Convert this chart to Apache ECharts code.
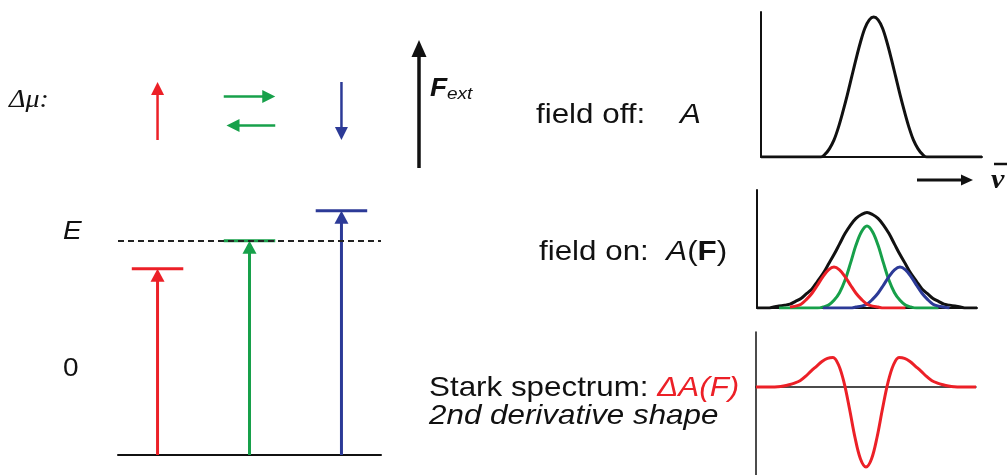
<!DOCTYPE html>
<html>
<head>
<meta charset="utf-8">
<script src="https://cdn.jsdelivr.net/npm/echarts@6/dist/echarts.min.js"></script>
<style>
html, body { margin: 0; padding: 0; background: #fff; }
#main { width: 1007px; height: 475px; }
</style>
</head>
<body>
<div id="main"></div>
<script>
// energy levels of the three sub-populations (E = 1 is the field-free transition)
var levelX = [1, 2, 3];
var levelE = [0.87, 1.0, 1.14];
var levelE0 = 1.0;
// dipole change arrows [x1, y1, x2, y2]
var dipoleArrows = [[1, -1, 1, 1], [1.72, 0.5, 2.28, 0.5], [2.28, -0.5, 1.75, -0.5], [3, 1, 3, -1]];
var fieldArrow = [[0, 0, 0, 1]];
var nuArrow = [[0, 0, 1, 0]];

// field off absorption A
var nuOff = [0, 27, 29, 31, 33, 35, 37, 39, 41, 43, 45, 47, 49, 51, 53, 55, 57, 59, 61, 63, 65, 67, 69, 71, 73, 75, 100];
var absOff = [0, 0, 0.02, 0.06, 0.12, 0.21, 0.32, 0.44, 0.57, 0.70, 0.82, 0.92, 0.98, 1.00, 0.98, 0.92, 0.82, 0.70, 0.57, 0.44, 0.32, 0.21, 0.12, 0.06, 0.02, 0, 0];

// field on A(F): envelope and the three shifted bands
var nuOn = [0, 2.5, 5, 7.5, 10, 12.5, 15, 17.5, 20, 22.5, 25, 27.5, 30, 32.5, 35, 37.5, 40, 42.5, 45, 47.5, 50,
            52.5, 55, 57.5, 60, 62.5, 65, 67.5, 70, 72.5, 75, 77.5, 80, 82.5, 85, 87.5, 90, 92.5, 95, 97.5, 100];
var absOn = [0, 0, 0, 0.01, 0.02, 0.03, 0.04, 0.07, 0.10, 0.15, 0.20, 0.28, 0.36, 0.46, 0.56, 0.67, 0.78, 0.87, 0.94, 0.98, 1.00,
             0.98, 0.94, 0.87, 0.78, 0.67, 0.56, 0.46, 0.36, 0.28, 0.20, 0.15, 0.10, 0.07, 0.04, 0.03, 0.02, 0.01, 0, 0, 0];
var absGreen = [null, null, null, null, 0, 0, 0, 0, 0, 0, 0, 0, 0.01, 0.03, 0.08, 0.16, 0.29, 0.47, 0.66, 0.80, 0.86,
                0.80, 0.66, 0.47, 0.29, 0.16, 0.08, 0.03, 0.01, 0, 0, 0, 0, 0, null, null, null, null, null, null, null];
var absBlue = [null, null, null, null, null, null, null, null, null, null, null, null, 0, 0, 0, 0, 0, 0, 0.01, 0.02, 0.04,
               0.09, 0.155, 0.24, 0.33, 0.40, 0.43, 0.40, 0.33, 0.24, 0.155, 0.09, 0.04, 0.02, 0.01, 0, null, null, null, null, null];
var absRed = [null, null, null, null, null, null, 0.01, 0.02, 0.04, 0.09, 0.155, 0.24, 0.33, 0.40, 0.43, 0.40, 0.33, 0.24, 0.155, 0.09, 0.04,
              0.02, 0.01, 0, 0, 0, 0, 0, null, null, null, null, null, null, null, null, null, null, null, null, null];

// Stark spectrum dA(F)
var stark = [0, 0, 0, 0, 0.005, 0.015, 0.03, 0.05, 0.08, 0.135, 0.2, 0.26, 0.32, 0.36, 0.37, 0.28, 0.06, -0.27, -0.63, -0.9, -1,
             -0.9, -0.63, -0.27, 0.06, 0.28, 0.37, 0.36, 0.32, 0.26, 0.2, 0.135, 0.08, 0.05, 0.03, 0.015, 0.005, 0, 0, 0, 0];

var RED = '#ec2027', GREEN = '#17a04a', BLUE = '#2c3a97', INK = '#111';
var levelColors = [RED, GREEN, BLUE];
var SANS = '"Liberation Sans", Arial, sans-serif';
var SERIF = '"Liberation Serif", "Times New Roman", serif';

function pairs(xs, ys) {
    return xs.map(function (x, i) { return [x, ys[i]]; });
}

function hiddenAxis(grid, min, max) {
    return { type: 'value', gridIndex: grid, min: min, max: max, show: false };
}

function plotAxis(grid, min, max, width) {
    return {
        type: 'value', gridIndex: grid, min: min, max: max,
        axisLine: { show: true, onZero: true, lineStyle: { color: INK, width: width } },
        axisTick: { show: false }, axisLabel: { show: false }, splitLine: { show: false }
    };
}

function arrowSeries(grid, arrows, colors, lineW, headL, headW) {
    return {
        type: 'custom', xAxisIndex: grid, yAxisIndex: grid, z: 3, silent: true,
        data: arrows,
        encode: { x: [0, 2], y: [1, 3] },
        renderItem: function (params, api) {
            var a = api.coord([api.value(0), api.value(1)]);
            var b = api.coord([api.value(2), api.value(3)]);
            var dx = b[0] - a[0], dy = b[1] - a[1];
            var len = Math.sqrt(dx * dx + dy * dy);
            var ux = dx / len, uy = dy / len;
            var cx = b[0] - ux * headL, cy = b[1] - uy * headL;
            var c = colors[params.dataIndex];
            return {
                type: 'group',
                children: [
                    { type: 'line', shape: { x1: a[0], y1: a[1], x2: cx + ux, y2: cy + uy }, style: { stroke: c, lineWidth: lineW } },
                    { type: 'polygon', shape: { points: [b, [cx - uy * headW / 2, cy + ux * headW / 2], [cx + uy * headW / 2, cy - ux * headW / 2]] }, style: { fill: c } }
                ]
            };
        }
    };
}

function curve(grid, xs, ys, color, z) {
    return {
        type: 'line', xAxisIndex: grid, yAxisIndex: grid, z: z, silent: true,
        data: pairs(xs, ys), showSymbol: false, smooth: 0.35,
        lineStyle: { color: color, width: 3 }
    };
}

function text(x, y, str, size, style, extra) {
    var el = {
        type: 'text', x: x, y: y, scaleX: 1.12, silent: true,
        style: {
            text: str, fontFamily: SANS, fontSize: size, fontStyle: style || 'normal', fill: INK,
            textVerticalAlign: 'middle', verticalAlign: 'middle'
        }
    };
    if (extra) {
        for (var k in extra) el.style[k] = extra[k];
    }
    return el;
}

var rich = {
    n: { fontFamily: SANS, fontSize: 28, fill: INK },
    i: { fontFamily: SANS, fontSize: 28, fontStyle: 'italic', fill: INK },
    b: { fontFamily: SANS, fontSize: 28, fontWeight: 'bold', fill: INK },
    r: { fontFamily: SANS, fontSize: 28, fontStyle: 'italic', fill: RED }
};

var chart = echarts.init(document.getElementById('main'));
chart.setOption({
    animation: false,
    backgroundColor: '#fff',
    grid: [
        { left: 118, top: 198, width: 263, height: 257 },   // energy levels
        { left: 118, top: 82, width: 263, height: 58 },     // dipole arrows
        { left: 409, top: 40, width: 20, height: 128 },     // F_ext arrow
        { left: 761, top: 12, width: 221, height: 145 },    // field off
        { left: 917, top: 170, width: 56, height: 20 },     // wavenumber arrow
        { left: 757, top: 190, width: 220, height: 118 },   // field on
        { left: 756, top: 332, width: 220, height: 143 }    // Stark spectrum
    ],
    xAxis: [
        plotAxis(0, 0.57, 3.43, 2),
        hiddenAxis(1, 0.57, 3.43),
        hiddenAxis(2, -1, 1),
        plotAxis(3, 0, 100, 2),
        hiddenAxis(4, 0, 1),
        plotAxis(5, 0, 100, 2),
        plotAxis(6, 0, 100, 1.5)
    ],
    yAxis: [
        hiddenAxis(0, 0, 1.2),
        hiddenAxis(1, -1, 1),
        hiddenAxis(2, 0, 1),
        plotAxis(3, 0, 1.036, 2),
        hiddenAxis(4, -1, 1),
        plotAxis(5, 0, 1.237, 2),
        plotAxis(6, -1.1, 0.69, 1.5)
    ],
    series: [
        {
            type: 'line', xAxisIndex: 0, yAxisIndex: 0, z: 1, silent: true,
            data: pairs(levelX, levelE), symbol: 'none', lineStyle: { opacity: 0 },
            markLine: {
                silent: true, symbol: 'none', label: { show: false },
                lineStyle: { color: '#222', width: 2, type: [6, 4] },
                data: [{ yAxis: levelE0 }]
            }
        },
        arrowSeries(0, levelX.map(function (x, i) { return [x, 0, x, levelE[i]]; }), levelColors, 3, 13, 14),
        {
            type: 'custom', xAxisIndex: 0, yAxisIndex: 0, z: 4, silent: true,
            data: pairs(levelX, levelE),
            encode: { x: 0, y: 1 },
            renderItem: function (params, api) {
                var l = api.coord([api.value(0) - 0.28, api.value(1)]);
                var r = api.coord([api.value(0) + 0.28, api.value(1)]);
                return { type: 'line', shape: { x1: l[0], y1: l[1], x2: r[0], y2: r[1] }, style: { stroke: levelColors[params.dataIndex], lineWidth: 3 } };
            }
        },
        arrowSeries(1, dipoleArrows, [RED, GREEN, GREEN, BLUE], 2.5, 13, 13),
        arrowSeries(2, fieldArrow, [INK], 3.5, 17, 15),
        arrowSeries(4, nuArrow, [INK], 3, 12, 11),
        curve(3, nuOff, absOff, INK, 2),
        curve(5, nuOn, absOn, INK, 2),
        curve(5, nuOn, absGreen, GREEN, 3),
        curve(5, nuOn, absBlue, BLUE, 4),
        curve(5, nuOn, absRed, RED, 5),
        curve(6, nuOn, stark, RED, 3)
    ],
    graphic: [
        text(9, 100, 'Δμ:', 25, 'italic', { fontFamily: SERIF }),
        text(63, 232, 'E', 25, 'italic'),
        text(63, 369, '0', 25),
        text(430, 89, 'F', 25, 'italic', { fontWeight: 'bold' }),
        text(447, 94, 'ext', 17, 'italic'),
        text(991, 181, 'ν', 27, 'italic', { fontFamily: SERIF, fontWeight: 'bold' }),
        { type: 'line', silent: true, shape: { x1: 994, y1: 164, x2: 1007, y2: 164 }, style: { stroke: INK, lineWidth: 2.5 } },
        text(536, 115, '{n|field off:    }{i|A}', 28, 'normal', { rich: rich }),
        text(539, 252, '{n|field on:  }{i|A}{n|(}{b|F}{n|)}', 28, 'normal', { rich: rich }),
        text(429, 388, '{n|Stark spectrum: }{r|ΔA(F)}', 28, 'normal', { rich: rich }),
        text(429, 416, '2nd derivative shape', 28, 'italic')
    ]
});
</script>
</body>
</html>
